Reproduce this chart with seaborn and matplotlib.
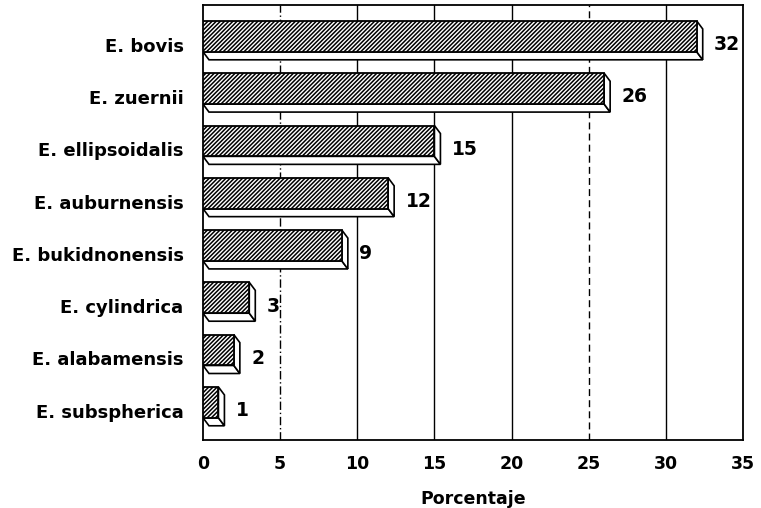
import matplotlib
matplotlib.use("Agg")
import matplotlib.pyplot as plt
import matplotlib.transforms as mtransforms
from matplotlib.patches import Polygon
import seaborn as sns
import pandas as pd

species = ["E. bovis", "E. zuernii", "E. ellipsoidalis", "E. auburnensis",
           "E. bukidnonensis", "E. cylindrica", "E. alabamensis", "E. subspherica"]
percent = [32, 26, 15, 12, 9, 3, 2, 1]
x_ticks = [0, 5, 10, 15, 20, 25, 30, 35]
x_label = "Porcentaje"

sns.set_theme(style="white")
plt.rcParams["font.family"] = ["DejaVu Sans"]
plt.rcParams["font.weight"] = "bold"
plt.rcParams["hatch.linewidth"] = 1.1

W, H = 761, 508
fig = plt.figure(figsize=(W / 100, H / 100), dpi=100)
ax = fig.add_axes([203 / W, 68 / H, 540 / W, 435 / H])

df = pd.DataFrame({"Especie": species, "Porcentaje": percent})
sns.barplot(data=df, x="Porcentaje", y="Especie", orient="h", color="white",
            edgecolor="black", linewidth=1.3, width=0.59, ax=ax, zorder=3)

ax.set_xlim(0, 35)
ax.set_ylim(7.72, -0.60)

# vertical reference lines
styles = {5: (0, (6, 2, 1, 2)), 10: "-", 15: "-", 20: "-", 25: (0, (5, 3)), 30: "-"}
for xv, ls in styles.items():
    ax.axvline(xv, color="black", lw=1.0, ls=ls, zorder=1)

# hatched front faces plus light depth faces (down-right)
dx = 6 * 35 / 540
dy = 8 * 8.32 / 435
for p in ax.patches[:len(percent)]:
    p.set_hatch("////////")
    x0, y0, w, h = p.get_x(), p.get_y(), p.get_width(), p.get_height()
    bottom = Polygon([(x0, y0 + h), (x0 + w, y0 + h), (x0 + w + dx, y0 + h + dy),
                      (x0 + dx, y0 + h + dy)], closed=True, facecolor="white",
                     edgecolor="black", lw=1.2, zorder=2.9)
    side = Polygon([(x0 + w, y0), (x0 + w + dx, y0 + dy), (x0 + w + dx, y0 + h + dy),
                    (x0 + w, y0 + h)], closed=True, facecolor="white",
                   edgecolor="black", lw=1.2, zorder=2.9)
    ax.add_patch(bottom)
    ax.add_patch(side)

for i, v in enumerate(percent):
    ax.annotate(str(v), xy=(v, i), xytext=(12.5, -6), textcoords="offset points",
                ha="left", va="center", fontsize=13.5, fontweight="bold", color="black")

ax.set_xticks(x_ticks)
ax.set_xticklabels([str(t) for t in x_ticks], fontsize=12.5, fontweight="bold")
ax.tick_params(axis="x", length=0, pad=11, colors="black")
ax.tick_params(axis="y", length=0, pad=14, colors="black", labelsize=13)
for lbl in ax.get_yticklabels():
    lbl.set_fontweight("bold")
    lbl.set_transform(lbl.get_transform() +
                      mtransforms.ScaledTranslation(0, -6 / 72, fig.dpi_scale_trans))

ax.set_xlabel(x_label, fontsize=12.5, fontweight="bold", labelpad=12, color="black")
ax.set_ylabel("")

for s in ax.spines.values():
    s.set_visible(True)
    s.set_color("black")
    s.set_linewidth(1.3)

fig.savefig("out.png", dpi=100, facecolor="white")
